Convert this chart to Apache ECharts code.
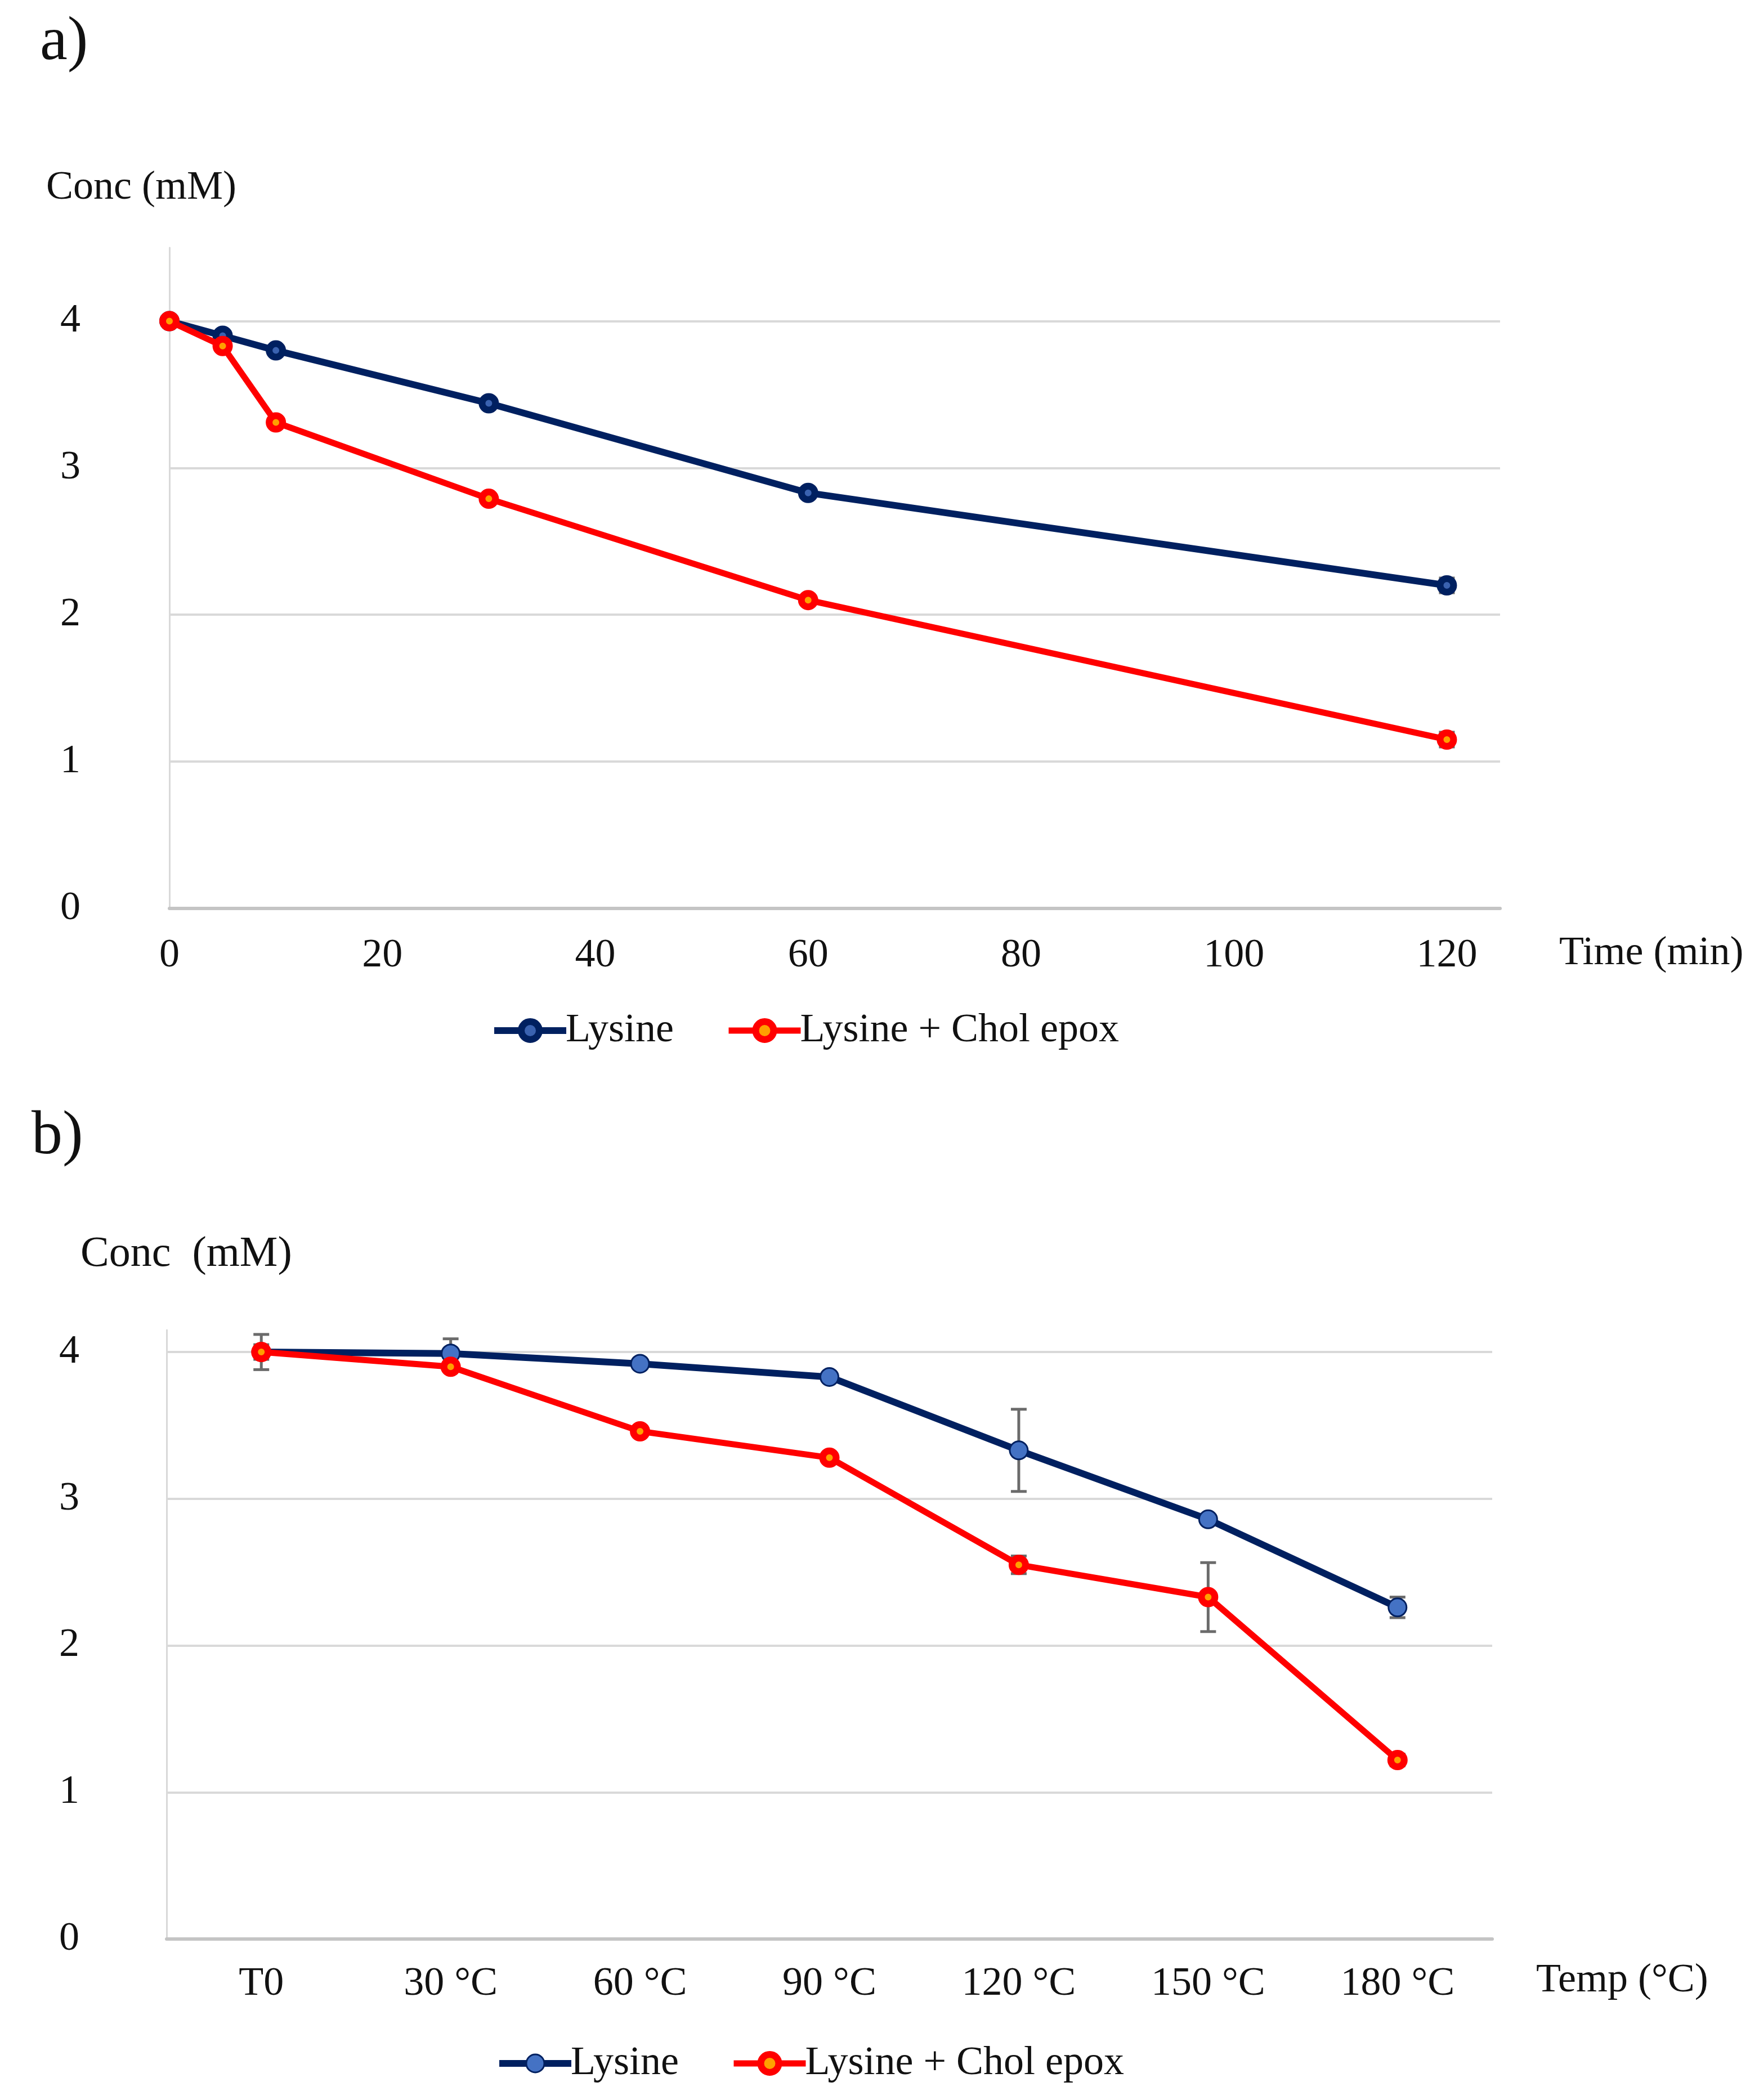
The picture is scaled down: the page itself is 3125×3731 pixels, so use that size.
<!DOCTYPE html>
<html>
<head>
<meta charset="utf-8">
<script src="https://cdn.jsdelivr.net/npm/echarts@6/dist/echarts.min.js"></script>
<style>
  html, body { margin: 0; padding: 0; background: #fff; }
  #chart { width: 3125px; height: 3731px; }
</style>
</head>
<body>
<div id="chart"></div>
<script>
// panel a: concentration vs time
const timeMin = [0, 5, 10, 30, 60, 120];
const lysineTime = [4.0, 3.90, 3.80, 3.44, 2.83, 2.20];
const epoxTime = [4.0, 3.83, 3.31, 2.79, 2.10, 1.15];
const lysineTimeErr = [0, 0, 0, 0, 0, 0.05];
const epoxTimeErr = [0, 0, 0, 0, 0, 0.05];

// panel b: concentration vs temperature
const tempLabels = ["T0", "30 °C", "60 °C", "90 °C", "120 °C", "150 °C", "180 °C"];
const lysineTemp = [4.0, 3.99, 3.92, 3.83, 3.33, 2.86, 2.26];
const epoxTemp = [4.0, 3.90, 3.46, 3.28, 2.55, 2.33, 1.22];
const lysineTempErr = [0.12, 0.10, 0, 0, 0.28, 0.03, 0.07];
const epoxTempErr = [0.05, 0, 0, 0, 0.06, 0.235, 0.04];

const seriesNames = ["Lysine", "Lysine + Chol epox"];

const FONT = "Liberation Serif";
const NAVY = "#002060";
const RED = "#ff0000";
const GRID_GRAY = "#d9d9d9";

const pairs = (xs, ys) => ys.map((y, i) => [xs[i], y]);
const errData = (xs, ys, es) =>
  ys.map((y, i) => [xs[i], y, es[i]]).filter((d) => d[2] > 0);

function errorBars(xIdx, yIdx, data) {
  return {
    type: "custom",
    xAxisIndex: xIdx,
    yAxisIndex: yIdx,
    z: 1,
    silent: true,
    data: data,
    renderItem: function (params, api) {
      const x = api.value(0);
      const y = api.value(1);
      const e = api.value(2);
      const top = api.coord([x, y + e]);
      const bot = api.coord([x, y - e]);
      const w = 14;
      const st = { stroke: "#6b6b6b", lineWidth: 5 };
      return {
        type: "group",
        children: [
          { type: "line", shape: { x1: top[0], y1: top[1], x2: bot[0], y2: bot[1] }, style: st },
          { type: "line", shape: { x1: top[0] - w, y1: top[1], x2: top[0] + w, y2: top[1] }, style: st },
          { type: "line", shape: { x1: bot[0] - w, y1: bot[1], x2: bot[0] + w, y2: bot[1] }, style: st }
        ]
      };
    }
  };
}

const tickLabel = { fontFamily: FONT, fontSize: 72, color: "#111" };

// marker styles
const ringBlue = { color: "#3a62b0", borderColor: NAVY, borderWidth: 12 };
const ringRed = { color: "#ffa000", borderColor: RED, borderWidth: 12 };
const dotBlue = { color: "#4472c4", borderColor: NAVY, borderWidth: 3 };

const chart = echarts.init(document.getElementById("chart"));
const tempIdx = tempLabels.map((_, i) => i);

function legendFor(left, top, blueStyle) {
  return {
    left: left, top: top,
    itemWidth: 128, itemHeight: 40, itemGap: 92,
    textStyle: { fontFamily: FONT, fontSize: 72, color: "#111", padding: [0, 0, 0, -6] },
    data: [
      { name: seriesNames[0], itemStyle: blueStyle, lineStyle: { color: NAVY, width: 12 } },
      { name: seriesNames[1], itemStyle: ringRed, lineStyle: { color: RED, width: 11 } }
    ]
  };
}

const option = {
  backgroundColor: "#fff",
  animation: false,
  grid: [
    { left: 301, top: 440, width: 2364, height: 1174 },
    { left: 296, top: 2363, width: 2355, height: 1082 }
  ],
  xAxis: [
    {
      gridIndex: 0, type: "value", min: 0, max: 125, interval: 20,
      axisLine: { show: true, lineStyle: { color: "#c4c4c4", width: 6 } },
      axisTick: { show: false },
      splitLine: { show: false },
      axisLabel: Object.assign({ margin: 48, showMaxLabel: false }, tickLabel)
    },
    {
      gridIndex: 1, type: "category", data: tempLabels, boundaryGap: true,
      axisLine: { show: true, lineStyle: { color: "#c4c4c4", width: 6 } },
      axisTick: { show: false },
      splitLine: { show: false },
      axisLabel: Object.assign({ margin: 44, interval: 0 }, tickLabel)
    }
  ],
  yAxis: [
    {
      gridIndex: 0, type: "value", min: 0, max: 4.5, interval: 1,
      axisLine: { show: true, lineStyle: { color: GRID_GRAY, width: 3 } },
      axisTick: { show: false },
      splitLine: { show: true, showMaxLine: false, lineStyle: { color: GRID_GRAY, width: 4 } },
      axisLabel: Object.assign({ margin: 158, showMaxLabel: false, align: "right" }, tickLabel)
    },
    {
      gridIndex: 1, type: "value", min: 0, max: 4.15, interval: 1,
      axisLine: { show: true, lineStyle: { color: GRID_GRAY, width: 3 } },
      axisTick: { show: false },
      splitLine: { show: true, showMaxLine: false, lineStyle: { color: GRID_GRAY, width: 4 } },
      axisLabel: Object.assign({ margin: 155, showMaxLabel: false, align: "right" }, tickLabel)
    }
  ],
  legend: [
    legendFor(867, 1835 - 45, ringBlue),
    legendFor(876, 3670 - 45, dotBlue)
  ],
  graphic: [
    { type: "text", left: 71, top: 83 - 62, style: { text: "a)", font: "110px " + FONT, fill: "#111" } },
    { type: "text", left: 56, top: 2027 - 62, style: { text: "b)", font: "110px " + FONT, fill: "#111" } },
    { type: "text", left: 82, top: 340 - 42, style: { text: "Conc (mM)", font: "72px " + FONT, fill: "#111" } },
    { type: "text", left: 143, top: 2235 - 44, style: { text: "Conc  (mM)", font: "76px " + FONT, fill: "#111" } },
    { type: "text", left: 2770, top: 1700 - 42, style: { text: "Time (min)", font: "72px " + FONT, fill: "#111" } },
    { type: "text", left: 2729, top: 3525 - 42, style: { text: "Temp (°C)", font: "72px " + FONT, fill: "#111" } }
  ],
  series: [
    errorBars(0, 0, errData(timeMin, lysineTime, lysineTimeErr)),
    errorBars(0, 0, errData(timeMin, epoxTime, epoxTimeErr)),
    {
      name: seriesNames[0], type: "line", xAxisIndex: 0, yAxisIndex: 0, z: 3,
      data: pairs(timeMin, lysineTime),
      symbol: "circle", symbolSize: 24,
      lineStyle: { color: NAVY, width: 12 },
      itemStyle: ringBlue
    },
    {
      name: seriesNames[1], type: "line", xAxisIndex: 0, yAxisIndex: 0, z: 4,
      data: pairs(timeMin, epoxTime),
      symbol: "circle", symbolSize: 24,
      lineStyle: { color: RED, width: 11 },
      itemStyle: ringRed
    },
    errorBars(1, 1, errData(tempIdx, lysineTemp, lysineTempErr)),
    errorBars(1, 1, errData(tempIdx, epoxTemp, epoxTempErr)),
    {
      name: seriesNames[0], type: "line", xAxisIndex: 1, yAxisIndex: 1, z: 3,
      data: pairs(tempIdx, lysineTemp),
      symbol: "circle", symbolSize: 32,
      lineStyle: { color: NAVY, width: 12 },
      itemStyle: dotBlue
    },
    {
      name: seriesNames[1], type: "line", xAxisIndex: 1, yAxisIndex: 1, z: 4,
      data: pairs(tempIdx, epoxTemp),
      symbol: "circle", symbolSize: 24,
      lineStyle: { color: RED, width: 11 },
      itemStyle: ringRed
    }
  ]
};

chart.setOption(option);
</script>
</body>
</html>
